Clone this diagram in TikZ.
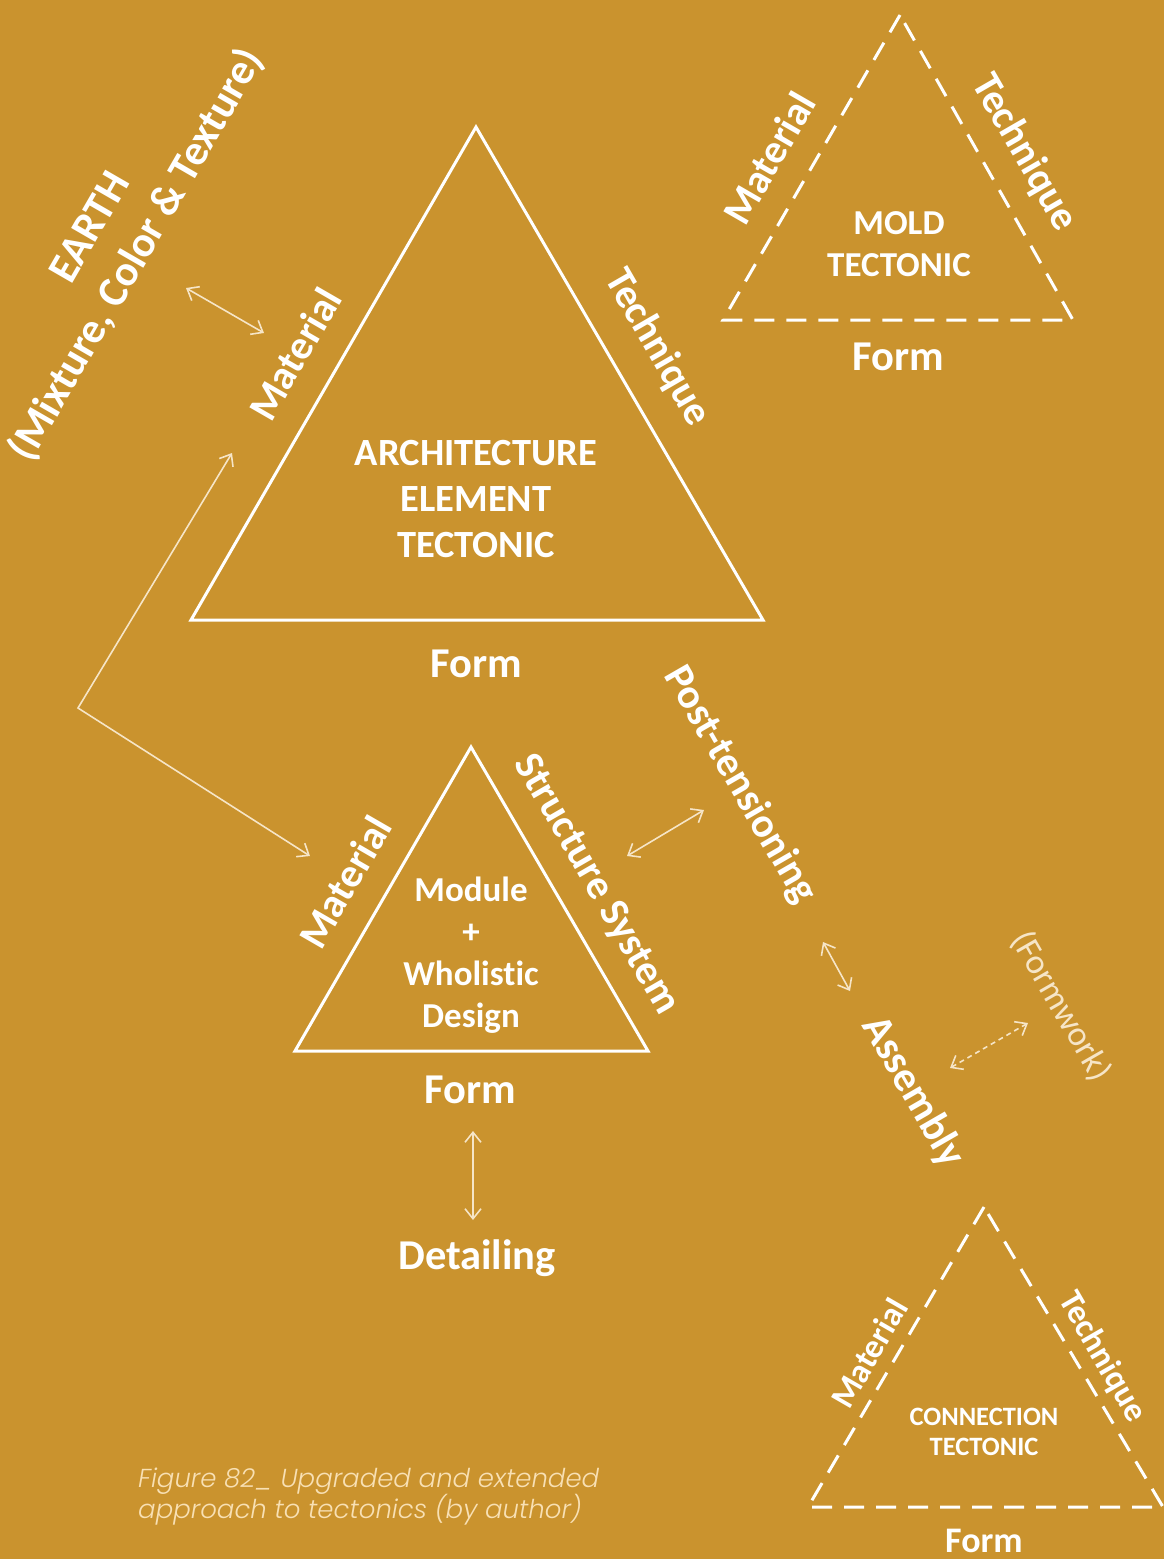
\documentclass[tikz,border=0pt]{standalone}
\usepackage{fontspec}
\setmainfont{Carlito}[Ligatures=NoCommon]
\newfontfamily\capfont{Poppins Light Italic}
\usetikzlibrary{arrows.meta}
\definecolor{bg}{RGB}{202,147,46}
\definecolor{cream}{RGB}{246,229,199}
\definecolor{capcol}{RGB}{248,224,180}
\begin{document}
\begin{tikzpicture}[x=1pt,y=-1pt,
  lbl/.style 2 args={text=white,inner sep=0pt,align=center,font=\bfseries\fontsize{#1}{#2}\selectfont},
  solidtri/.style={draw=white,line width=3pt,line join=miter},
  dashtri/.style={draw=white,line width=3pt,dash pattern=on 20pt off 12pt},
  tip/.tip={Straight Barb[length=10pt,width=16pt]},
  dbl/.style={draw=cream,line width=1.6pt,tip-tip},
  dbldash/.style={draw=cream,line width=1.6pt,dash pattern=on 5pt off 4pt,tip-tip}]
\fill[bg] (0,0) rectangle (1164,1559);
\useasboundingbox (0,0) rectangle (1164,1559);

% ---------- big triangle ----------
\coordinate (A1) at (476,127);
\coordinate (A2) at (191,620);
\coordinate (A3) at (763,620);
\draw[solidtri] (A1) -- (A2) -- (A3) -- cycle;
\node[lbl={38.5}{46}] (arch) at (476,499) {ARCHITECTURE\\ELEMENT\\TECTONIC};
\node[lbl={41}{41},rotate=60] (amat) at (295,354) {Material};
\node[lbl={41}{41},rotate=-60] (atech) at (657,348) {Technique};
\node[lbl={42.5}{42}] (aform) at (476,664) {Form};

% ---------- earth ----------
\node[lbl={43}{54},rotate=60] (earth) at (115,242) {EARTH\\(Mixture, Color \& Texture)};

% ---------- mold triangle ----------
\coordinate (M1) at (900,15);
\coordinate (M2) at (723,320);
\coordinate (M3) at (1073,320);
\draw[dashtri] (M1) -- (M2) -- (M3) -- cycle;
\node[lbl={35}{42}] (mold) at (899,244) {MOLD\\TECTONIC};
\node[lbl={41}{41},rotate=60] (mmat) at (769,158) {Material};
\node[lbl={41}{41},rotate=-60] (mtech) at (1024,153) {Technique};
\node[lbl={42.5}{42}] (mform) at (898,357) {Form};

% ---------- module triangle ----------
\coordinate (S1) at (471,747);
\coordinate (S2) at (295,1051);
\coordinate (S3) at (648,1051);
\draw[solidtri] (S1) -- (S2) -- (S3) -- cycle;
\node[lbl={35}{42}] (module) at (471,955) {Module\\+\\Wholistic\\Design};
\node[lbl={41}{41},rotate=60] (smat) at (345,882) {Material};
\node[lbl={41.5}{41},rotate=-60] (ssys) at (596,885) {Structure System};
\node[lbl={42.5}{42}] (sform) at (470,1090) {Form};
\node[lbl={42.5}{42}] (detail) at (477,1258) {Detailing};

% ---------- right column ----------
\node[lbl={41.5}{41},rotate=-60] (post) at (740,785) {Post-tensioning};
\node[lbl={42}{42},rotate=-60] (assembly) at (913,1092) {Assembly};
\node[text=cream,inner sep=0pt,font=\fontsize{35}{35}\selectfont,rotate=-60] (formwork) at (1061,1006) {(Formwork)};

% ---------- connection triangle ----------
\coordinate (C1) at (984,1207);
\coordinate (C2) at (808,1507);
\coordinate (C3) at (1163,1507);
\draw[dashtri] (C1) -- (C2) -- (C3) -- cycle;
\node[lbl={26.5}{30}] (conn) at (984,1432) {CONNECTION\\TECTONIC};
\node[lbl={34}{34},rotate=60] (cmat) at (869,1353) {Material};
\node[lbl={34}{34},rotate=-60] (ctech) at (1102,1357) {Technique};
\node[lbl={36}{36}] (cform) at (984,1541) {Form};

% ---------- connectors ----------
\coordinate (e1) at (186,288);
\coordinate (e2) at (264,333);
\draw[dbl] (e1) -- (e2);

\coordinate (b1) at (232,453);
\coordinate (b2) at (78,708);
\coordinate (b3) at (310,856);
\draw[dbl] (b1) -- (b2) -- (b3);

\coordinate (p1) at (627,856);
\coordinate (p2) at (704,810);
\draw[dbl] (p1) -- (p2);

\coordinate (q1) at (823,942);
\coordinate (q2) at (850,991);
\draw[dbl] (q1) -- (q2);

\coordinate (f1) at (950,1068);
\coordinate (f2) at (1028,1023);
\draw[dbldash] (f1) -- (f2);

\coordinate (d1) at (473,1131);
\coordinate (d2) at (473,1220);
\draw[dbl] (d1) -- (d2);

% ---------- caption ----------
\node[text=capcol,inner sep=0pt,anchor=base west,font=\capfont\fontsize{26}{26}\selectfont] (cap1) at (138,1487) {Figure 82\_ Upgraded and extended};
\node[text=capcol,inner sep=0pt,anchor=base west,font=\capfont\fontsize{26}{26}\selectfont] (cap2) at (138,1518) {approach to tectonics (by author)};
\end{tikzpicture}
\end{document}
